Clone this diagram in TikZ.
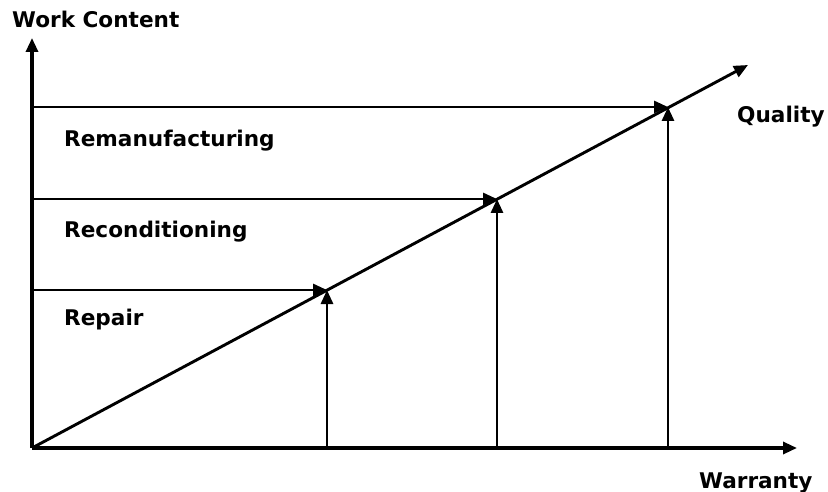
\documentclass[tikz,border=0pt]{standalone}
\usepackage{fontspec}
\setmainfont{DejaVu Sans}
\usetikzlibrary{arrows.meta}
\begin{document}
\begin{tikzpicture}[
    x=1pt,
    y=-1pt,
    >={Triangle[length=14pt,width=12pt]},
    eje/.style={line width=3.2pt,->},
    flecha/.style={line width=2.9pt,->},
    etiqueta/.style={font=\bfseries\fontsize{21.6}{25}\selectfont,inner sep=0pt,anchor=base west}
]
    \useasboundingbox (0,0) rectangle (828,492);

    % Ejes
    \coordinate (origen) at (32,448);
    \coordinate (ytope) at (32,38);
    \coordinate (xtope) at (797,448);
    \coordinate (dtope) at (748,65);
    \draw[eje] (origen) -- (ytope);
    \draw[eje] (origen) -- (xtope);
    \draw[flecha] (origen) -- (dtope);

    % Niveles
    \coordinate (p1) at (327,290);
    \coordinate (p2) at (497,199);
    \coordinate (p3) at (668,107);
    \coordinate (i1) at (32,290);
    \coordinate (i2) at (32,199);
    \coordinate (i3) at (32,107);
    \coordinate (b1) at (327,448);
    \coordinate (b2) at (497,448);
    \coordinate (b3) at (668,448);
    \foreach \k in {1,2,3} {
        \draw[flecha] (i\k) -- (p\k);
        \draw[flecha] (b\k) -- (p\k);
    }

    % Textos
    \node[etiqueta] (contenido) at (12,28) {Work Content};
    \node[etiqueta] (calidad) at (737,123) {Quality};
    \node[etiqueta] (garantia) at (699,488) {Warranty};
    \node[etiqueta] (reman) at (64,147) {Remanufacturing};
    \node[etiqueta] (recond) at (64,237) {Reconditioning};
    \node[etiqueta] (repar) at (64,325) {Repair};
\end{tikzpicture}
\end{document}
